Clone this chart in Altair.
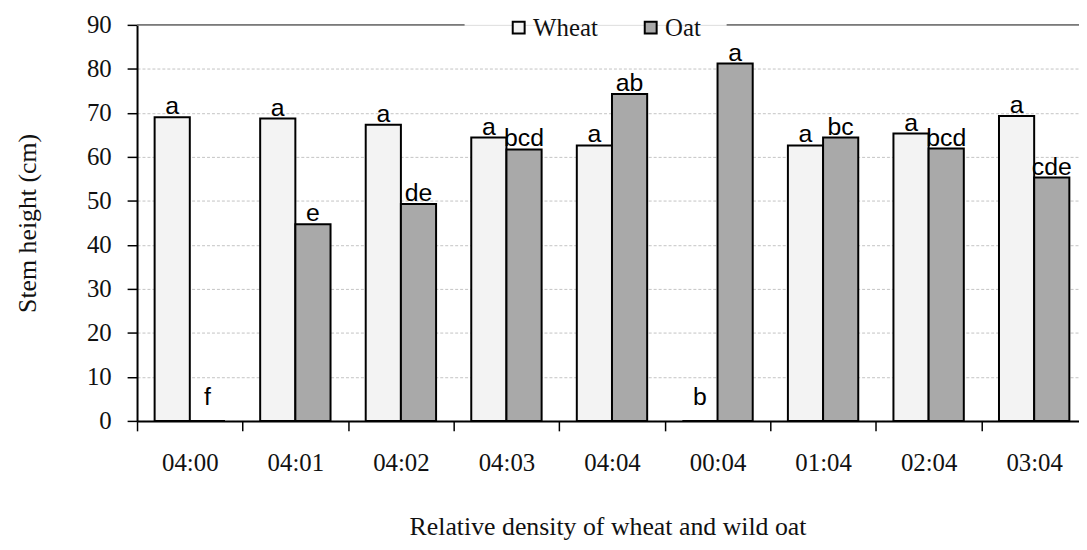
import altair as alt
import pandas as pd

categories = ["04:00", "04:01", "04:02", "04:03", "04:04", "00:04", "01:04", "02:04", "03:04"]
wheat = [69.0, 68.7, 67.3, 64.4, 62.6, 0.0, 62.6, 65.3, 69.3]
oat = [0.0, 44.7, 49.3, 61.7, 74.3, 81.2, 64.4, 61.9, 55.3]
wheat_letters = ["a", "a", "a", "a", "a", "b", "a", "a", "a"]
oat_letters = ["f", "e", "de", "bcd", "ab", "a", "bc", "bcd", "cde"]
series = ["Wheat", "Oat"]
y_ticks = [0, 10, 20, 30, 40, 50, 60, 70, 80, 90]

rows = []
for c, w, o, wl, ol in zip(categories, wheat, oat, wheat_letters, oat_letters):
    rows.append({"cat": c, "series": "Wheat", "value": w, "letter": wl})
    rows.append({"cat": c, "series": "Oat", "value": o, "letter": ol})
df = pd.DataFrame(rows)

SERIF = "Liberation Serif"
SANS = "Liberation Sans"

x_enc = alt.X(
    "cat:N",
    sort=categories,
    scale=alt.Scale(paddingInner=0, paddingOuter=0),
    axis=alt.Axis(
        title="Relative density of wheat and wild oat",
        labelAngle=0,
        tickBand="extent",
        tickSize=10,
        tickWidth=1.5,
        tickColor="black",
        labelPadding=20,
        labelFont=SERIF,
        labelFontSize=25,
        labelColor="#111111",
        domainColor="black",
        domainWidth=2,
        titleFont=SERIF,
        titleFontSize=26,
        titleFontWeight="normal",
        titleColor="#111111",
        titleBaseline="alphabetic",
        titleY=114,
        titleX=474,
        grid=False,
    ),
)
xoff_enc = alt.XOffset(
    "series:N",
    sort=series,
    scale=alt.Scale(paddingInner=0, paddingOuter=0.5),
)
y_axis = alt.Axis(
    title="Stem height (cm)",
    values=y_ticks,
    tickSize=10,
    tickWidth=1.5,
    tickColor="black",
    labelPadding=16,
    labelFont=SERIF,
    labelFontSize=25,
    labelColor="#111111",
    domainColor="black",
    domainWidth=2,
    grid=True,
    gridColor="#c4c4c4",
    gridDash=[3, 2],
    gridWidth=1,
    gridOpacity={"condition": {"test": "datum.value === 90", "value": 0}, "value": 1},
    titleFont=SERIF,
    titleFontSize=26,
    titleFontWeight="normal",
    titleColor="#111111",
    titleAngle=270,
    titleBaseline="alphabetic",
    titleX=-102,
    titleY=199.5,
)
y_scale = alt.Scale(domain=[0, 90], nice=False, zero=True)

base = alt.Chart(df)

bars = base.mark_bar(stroke="black", strokeWidth=2).encode(
    x=x_enc,
    xOffset=xoff_enc,
    y=alt.Y("value:Q", scale=y_scale, axis=y_axis),
    color=alt.Color(
        "series:N",
        sort=series,
        scale=alt.Scale(domain=series, range=["#f3f3f3", "#a9a9a9"]),
        legend=alt.Legend(
            title=None,
            orient="none",
            direction="horizontal",
            legendX=372,
            legendY=-10,
            padding=0,
            symbolType="square",
            symbolSize=144,
            symbolStrokeColor="black",
            symbolStrokeWidth=2,
            labelFont=SERIF,
            labelFontSize=25,
            labelColor="#111111",
            labelOffset=2,
            columnPadding=40,
        ),
    ),
)

labels = base.transform_calculate(
    label_y="max(datum.value, 3)"
).mark_text(
    font=SANS, fontSize=25, color="black", baseline="alphabetic", dy=-3
).encode(
    x=alt.X("cat:N", sort=categories),
    xOffset=alt.XOffset("series:N", sort=series),
    y=alt.Y("label_y:Q", scale=y_scale),
    text="letter:N",
)

line_df = pd.DataFrame({"k": [0]})
top_left = alt.Chart(line_df).mark_rule(color="#7a7a7a", strokeWidth=2).encode(
    x=alt.value(0), x2=alt.value(330), y=alt.value(0)
)
top_right = alt.Chart(line_df).mark_rule(color="#7a7a7a", strokeWidth=2).encode(
    x=alt.value(594), x2=alt.value(960), y=alt.value(0)
)

chart = alt.layer(bars, labels, top_left, top_right).properties(
    width=957,
    height=399,
    autosize="none",
    padding={"left": 130, "top": 15, "right": -8, "bottom": 120},
).configure_view(stroke=None).configure(background="white")

chart.save("out.html", embed_options={"renderer": "svg", "actions": False})
